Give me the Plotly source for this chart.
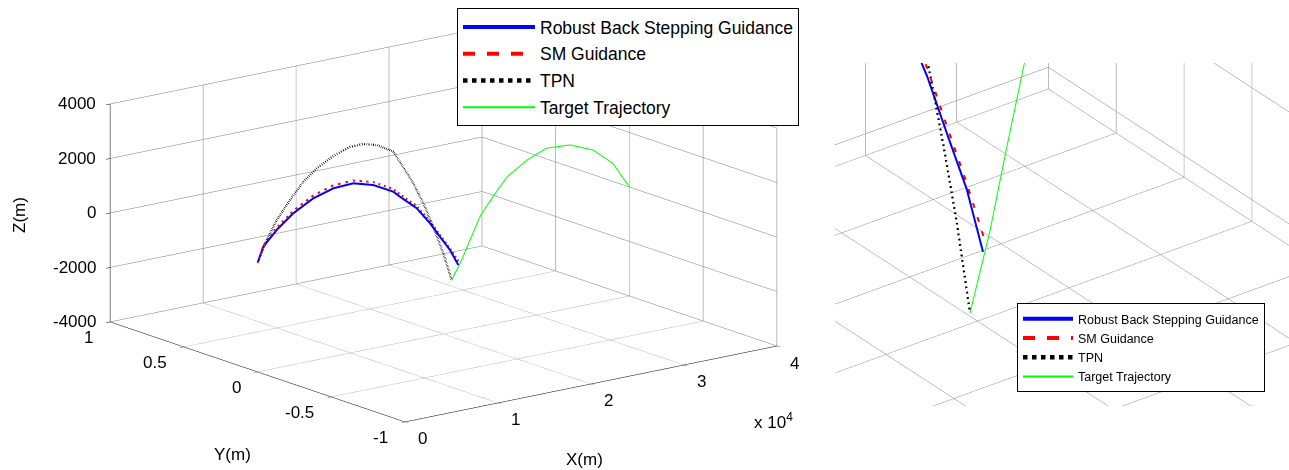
import math
import plotly.graph_objects as go

# ---------------- data (metres) ----------------
rbs_x = [0, 620, 2060, 3850, 6000, 8150, 10300, 12450, 14600, 15320, 17120, 18550, 19620, 20700, 21590]
rbs_z = [0, 554, 1068, 1556, 1956, 2172, 2206, 1993, 1600, 1365, 815, 165, -404, -965, -1578]
sm_x = [0, 620, 2060, 3850, 6000, 8150, 10300, 12450, 14600, 15320, 17120, 18550, 19620, 20700, 21770]
sm_z = [0, 600, 1150, 1650, 2060, 2280, 2310, 2100, 1700, 1460, 900, 240, -340, -910, -1530]
tpn_x = [0, 990, 2060, 3490, 4930, 6370, 8150, 9950, 11380, 12820, 14600, 15860, 16750, 17830, 18730, 19440, 20160, 20880]
tpn_z = [0, 774, 1435, 2070, 2640, 3030, 3360, 3570, 3575, 3435, 3070, 2308, 1758, 947, 150, -510, -1233, -2081]
tgt_x = [40000, 38200, 36100, 33600, 31100, 29000, 26800, 25300, 24000, 22850, 21960, 20880]
tgt_z = [0, 1000, 1630, 1990, 2050, 1760, 1280, 660, 80, -749, -1420, -2081]

names = ["Robust Back Stepping Guidance", "SM Guidance", "TPN", "Target Trajectory"]
x_ticks = [0, 10000, 20000, 30000, 40000]
x_ticktext = ["0", "1", "2", "3", "4"]
y_ticks = [-1, -0.5, 0, 0.5, 1]
y_ticktext = ["-1", "-0.5", "0", "0.5", "1"]
z_ticks = [-4000, -2000, 0, 2000, 4000]
z_ticktext = ["-4000", "-2000", "0", "2000", "4000"]
x_range, y_range, z_range = [0, 40000], [-1, 1], [-4000, 4000]

# detail (right) view: grid and limits
x_ticks2 = list(range(0, 40001, 5000))
y_ticks2 = [-1, -0.75, -0.5, -0.25, 0, 0.25, 0.5, 0.75, 1]
z_ticks2 = [-2600, -1600, -600, 400, 1400, 2400, 3400]
z_range2 = [-2793, 4000]

series = [
    (rbs_x, rbs_z, dict(color="#0000ff", width=4, dash="solid")),
    (sm_x, sm_z, dict(color="#ff0000", width=4, dash="dash")),
    (tpn_x, tpn_z, dict(color="#000000", width=4.5, dash="dot")),
    (tgt_x, tgt_z, dict(color="#00ff00", width=2, dash="solid")),
]

FONT = "Liberation Sans, Arial, sans-serif"
fig = go.Figure()
for sc, lg in (("scene", "legend"), ("scene2", "legend2")):
    for i, ((xs, zs, ln), nm) in enumerate(zip(series, names)):
        fig.add_trace(go.Scatter3d(
            x=xs, y=[0] * len(xs), z=zs, mode="lines", name=nm,
            line=ln, scene=sc, legend=lg, legendgroup=f"{lg}{i}",
            hoverinfo="skip"))


def axis(rng, tv, main=True):
    return dict(range=rng, tickvals=tv, showticklabels=False, title=dict(text=""),
                showbackground=False, gridcolor="#7a7a7a", gridwidth=1,
                showline=main, linecolor="black", linewidth=1,
                ticks="outside" if main else "", tickcolor="black", ticklen=5,
                zeroline=False, showspikes=False, autorange=False)


def basis(az, el):
    a, e = math.radians(az), math.radians(el)
    d = (math.cos(e) * math.cos(a), math.cos(e) * math.sin(a), math.sin(e))
    r = (-math.sin(a), math.cos(a), 0.0)
    u = (-math.sin(e) * math.cos(a), -math.sin(e) * math.sin(a), math.cos(e))
    return d, r, u


def camera(az, el, center, dist):
    d, _, _ = basis(az, el)
    return dict(eye=dict(x=center[0] + dist * d[0], y=center[1] + dist * d[1], z=center[2] + dist * d[2]),
                center=dict(x=center[0], y=center[1], z=center[2]),
                up=dict(x=0, y=0, z=1), projection=dict(type="orthographic"))


# ---- main view tick labels, anchored at the tick data positions ----
tick_font = dict(family=FONT, size=17, color="black")
scene_ann = []
for v, t in zip(x_ticks, x_ticktext):
    scene_ann.append(dict(x=v, y=y_range[0], z=z_range[0], text=t, showarrow=False,
                          xanchor="center", yanchor="middle", xshift=18, yshift=-17, font=tick_font))
for v, t in zip(y_ticks, y_ticktext):
    scene_ann.append(dict(x=x_range[0], y=v, z=z_range[0], text=t, showarrow=False,
                          xanchor="right", yanchor="middle", xshift=-15, yshift=-16, font=tick_font))
for v, t in zip(z_ticks, z_ticktext):
    scene_ann.append(dict(x=x_range[0], y=y_range[1], z=v, text=t, showarrow=False,
                          xanchor="right", yanchor="middle", xshift=-12, yshift=0, font=tick_font))

# ---- detail view camera (orthographic, zoomed on the intercept) ----
A2, E2 = -126.8, 29.1
H2 = 0.73 * 470 / 2            # px per scene unit (half domain height)
d2, r2, u2 = basis(A2, E2)
a_rad, e_rad = math.radians(A2), math.radians(E2)
asp2 = dict(
    x=0.0183 * (x_range[1] - x_range[0]) / (H2 * abs(math.sin(a_rad))),
    y=2 * 324 / (H2 * math.hypot(math.cos(a_rad), math.sin(e_rad) * math.sin(a_rad))),
    z=0.112 * (z_range2[1] - z_range2[0]) / (H2 * math.cos(e_rad)),
)
kx, kz = tpn_x[-1], tpn_z[-1]
kw = ((kx - x_range[0]) / (x_range[1] - x_range[0]) - 0.5) * asp2["x"]
kzw = ((kz - z_range2[0]) / (z_range2[1] - z_range2[0]) - 0.5) * asp2["z"]
dx_px, dy_px = (1062 - 970) / H2, (313 - 234.5) / H2
c2 = (kw + dx_px * r2[0] + dy_px * u2[0], dx_px * r2[1] + dy_px * u2[1], kzw + dx_px * r2[2] + dy_px * u2[2])

fig.update_layout(
    width=1289, height=470, margin=dict(l=0, r=0, t=0, b=0),
    paper_bgcolor="white", plot_bgcolor="white", template=None,
    font=dict(family=FONT, color="black"),
    scene=dict(
        domain=dict(x=[0, 0.6881], y=[0.0426, 1.0]),
        xaxis=axis(x_range, x_ticks),
        yaxis=axis(y_range, y_ticks),
        zaxis=axis(z_range, z_ticks),
        aspectmode="manual", aspectratio=dict(x=2.092, y=2.138, z=1.004),
        camera=camera(-127.8, 15.26, (0, 0, 0), 4),
        bgcolor="rgba(0,0,0,0)",
        annotations=scene_ann,
    ),
    scene2=dict(
        domain=dict(x=[0.648, 1.0], y=[0.136, 0.866]),
        xaxis=axis(x_range, x_ticks2, False),
        yaxis=axis(y_range, y_ticks2, False),
        zaxis=axis(z_range2, z_ticks2, False),
        aspectmode="manual", aspectratio=asp2,
        camera=camera(A2, E2, c2, 15),
        bgcolor="rgba(0,0,0,0)",
    ),
    legend=dict(x=457 / 1289, y=1 - 8 / 470, xanchor="left", yanchor="top",
                bgcolor="white", bordercolor="black", borderwidth=1,
                font=dict(family=FONT, size=17.5, color="black"),
                itemwidth=72, tracegroupgap=1, traceorder="grouped"),
    legend2=dict(x=1017 / 1289, y=1 - 303 / 470, xanchor="left", yanchor="top",
                 bgcolor="white", bordercolor="black", borderwidth=1,
                 font=dict(family=FONT, size=12.5, color="black"),
                 itemwidth=50, tracegroupgap=0, traceorder="grouped"),
    annotations=[
        dict(text="X(m)", x=584 / 1289, y=1 - 459 / 470, xref="paper", yref="paper",
             xanchor="center", yanchor="middle", showarrow=False, font=dict(size=17)),
        dict(text="Y(m)", x=232 / 1289, y=1 - 454 / 470, xref="paper", yref="paper",
             xanchor="center", yanchor="middle", showarrow=False, font=dict(size=17)),
        dict(text="Z(m)", x=20 / 1289, y=1 - 215 / 470, xref="paper", yref="paper",
             xanchor="center", yanchor="middle", showarrow=False, textangle=-90, font=dict(size=17)),
        dict(text="x 10<sup>4</sup>", x=773 / 1289, y=1 - 421 / 470, xref="paper", yref="paper",
             xanchor="center", yanchor="middle", showarrow=False, font=dict(size=17)),
    ],
)

fig.write_html("out.html", config={"displayModeBar": False},
               post_script="document.body.style.margin='0';")
